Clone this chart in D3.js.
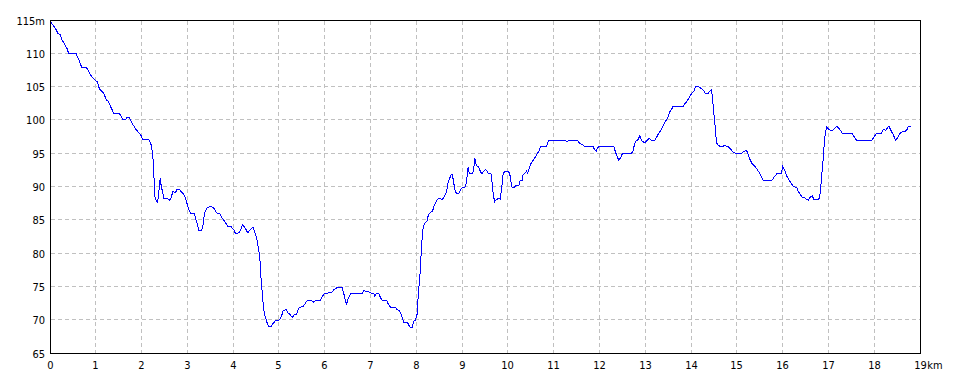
<!DOCTYPE html>
<html>
<head>
<meta charset="utf-8">
<script src="https://cdn.jsdelivr.net/npm/d3@7"></script>
<style>
html,body{margin:0;padding:0;background:#fff;}
svg{display:block;}
text{font-family:"Liberation Sans Narrow","Arial Narrow","DejaVu Sans Condensed",sans-serif;font-size:11px;fill:#000;}
</style>
</head>
<body>
<svg id="chart" width="960" height="384"></svg>
<script>
// distance along route (km)
const distanceKm = [
0,0.11,0.16,0.22,0.255,0.29,0.36,0.40,0.56,0.62,0.68,0.78,0.84,0.895,0.97,1.02,1.07,1.16,1.22,1.27,1.31,1.38,1.48,1.53,1.58,1.64,1.67,1.72,1.78,1.87,1.965,2.02,2.15,2.20,2.23,2.25,2.27,2.285,2.335,2.36,2.395,2.41,2.43,2.475,2.55,2.60,2.64,2.67,2.73,2.77,2.82,2.88,2.91,2.95,3.01,3.06,3.14,3.19,3.24,3.30,3.335,3.36,3.41,3.46,3.53,3.57,3.625,3.70,3.75,3.81,3.87,3.95,4.0,4.04,4.11,4.15,4.19,4.24,4.31,4.35,4.42,4.48,4.51,4.55,4.57,4.60,4.645,4.67,4.72,4.77,4.82,4.85,4.91,4.98,5.04,5.08,5.15,5.18,5.23,5.28,5.32,5.37,5.42,5.47,5.51,5.57,5.61,5.68,5.75,5.80,5.90,5.93,5.98,6.07,6.15,6.19,6.26,6.37,6.405,6.44,6.46,6.49,6.53,6.56,6.81,6.84,6.90,6.97,7.02,7.06,7.08,7.11,7.17,7.20,7.24,7.34,7.37,7.43,7.54,7.57,7.62,7.66,7.70,7.72,7.80,7.83,7.86,7.90,7.93,7.97,8.01,8.02,8.04,8.07,8.08,8.10,8.12,8.14,8.17,8.23,8.25,8.30,8.34,8.37,8.42,8.46,8.50,8.55,8.60,8.65,8.68,8.71,8.75,8.77,8.80,8.82,8.845,8.87,8.92,8.95,9.0,9.05,9.08,9.10,9.12,9.13,9.15,9.22,9.24,9.27,9.30,9.35,9.39,9.42,9.46,9.50,9.53,9.57,9.62,9.645,9.67,9.70,9.74,9.79,9.82,9.85,9.88,9.92,9.99,10.03,10.05,10.07,10.08,10.13,10.17,10.23,10.25,10.30,10.32,10.36,10.40,10.42,10.46,10.50,10.54,10.59,10.63,10.66,10.70,10.83,10.86,10.88,11.25,11.28,11.32,11.51,11.55,11.61,11.65,11.85,11.88,11.92,11.94,11.98,12.30,12.34,12.38,12.41,12.45,12.48,12.50,12.68,12.72,12.75,12.78,12.83,12.87,12.90,12.93,12.97,13.01,13.07,13.12,13.20,13.24,13.27,13.33,13.38,13.41,13.46,13.50,13.53,13.57,13.60,13.82,13.85,13.89,13.94,13.98,14.01,14.05,14.09,14.16,14.21,14.26,14.30,14.36,14.39,14.43,14.45,14.47,14.50,14.52,14.54,14.56,14.61,14.70,14.73,14.76,14.80,14.85,14.90,14.97,15.09,15.14,15.20,15.23,15.27,15.32,15.37,15.43,15.49,15.52,15.56,15.76,15.81,15.87,15.96,15.99,16.03,16.08,16.13,16.18,16.22,16.30,16.32,16.37,16.42,16.47,16.51,16.55,16.59,16.64,16.67,16.77,16.80,16.82,16.84,16.87,16.89,16.91,16.95,17.0,17.05,17.09,17.12,17.17,17.22,17.26,17.29,17.51,17.54,17.60,17.94,17.98,18.04,18.14,18.16,18.20,18.24,18.27,18.31,18.35,18.41,18.45,18.49,18.54,18.60,18.65,18.70,18.73,18.80
];
// elevation (m)
const elevationM = [
114.8,113.8,113.1,112.8,112,111.7,110.8,110,110,109.1,108,108,107.3,106.6,106.1,105.8,104.7,104.1,103.1,102.8,102.1,101.1,101.1,100.8,100.1,100.1,100.5,100.4,99.6,98.6,97.9,97.1,97.1,96.3,95.1,93.1,89.8,88.3,87.7,88.8,91.3,90.5,89.8,88.3,88.3,88.0,88.5,89.3,89.2,89.7,89.6,89.1,88.9,88.3,86.8,86.0,86.0,84.8,83.5,83.4,84.5,86,86.8,87.0,87.0,86.8,86.1,86.0,85.3,84.8,84.1,84.0,83.6,83.0,83.1,83.5,84.3,84.0,83.1,83.5,84.0,82.8,82.0,80.5,79.5,76.0,72.5,71.0,69.8,69.0,69.0,69.4,69.9,69.9,70.5,71.4,71.6,71.1,70.9,70.4,70.8,70.8,71.8,72.0,72.0,72.6,73.0,73.0,72.7,73.0,73.0,73.5,74.0,74.1,74.2,74.6,74.9,74.9,74.0,73.0,72.3,73.0,73.7,74.0,74.0,74.4,74.35,74.2,74.0,74.0,73.6,74.0,74.0,73.5,73.0,73.0,72.5,71.9,71.9,71.6,71.4,70.8,70.0,69.6,69.6,69.2,68.9,68.9,69.8,70.0,71.0,72.5,74.5,77.0,78.5,80.5,82.8,84.0,84.5,85.0,85.8,86.2,86.3,87.0,87.8,88.2,88.3,88.1,88.5,89.3,90.6,91.2,91.8,91.9,91.0,90.0,89.3,89.0,89.1,89.5,90.0,90.0,90.5,91.8,93.0,92.6,92.0,92.0,92.6,94.3,93.2,93.0,92.3,92.0,92.4,92.6,92.4,92.0,92.0,90.55,88.8,87.8,88.1,88.3,88.2,89.55,91.8,92.4,92.4,92.0,91.0,90.3,89.95,89.95,90.3,90.3,90.9,91.0,91.8,92.1,92.4,92.1,92.85,93.65,94.0,94.5,95.0,95.3,96.05,96.15,96.6,96.95,96.95,96.8,96.95,96.95,96.6,96.4,96.15,96.15,95.6,95.35,95.75,96.15,96.15,95.2,94.5,94.05,94.4,94.9,95.0,95.0,95.35,96.3,96.9,97.1,97.7,97.1,96.85,96.65,96.85,97.3,97.05,97.05,97.5,97.9,98.55,99.2,99.7,100.1,100.75,101.35,101.75,102.15,102.15,102.5,102.8,103.3,103.8,104.1,104.35,105.05,105.05,104.8,104.55,104.05,104.05,104.35,104.55,103.8,102.3,100.05,98.8,97.05,96.4,96.15,96.15,96.3,96.15,96.05,95.7,95.3,95.05,95.05,95.3,95.5,95.05,94.2,93.55,93.2,92.65,92.05,91.55,91.05,91.05,91.55,92.05,92.05,93.05,92.55,91.65,91.05,90.55,90.05,89.95,89.45,88.95,88.45,88.4,88.15,88.05,88.45,88.7,88.05,88.05,88.55,89.8,91.55,93.8,95.8,97.55,99.05,98.65,98.45,98.55,98.8,99.15,98.8,98.45,98.05,98.05,97.65,97.05,97.05,97.45,98.05,98.05,98.3,98.7,98.45,98.8,99.15,98.55,97.8,97.05,97.3,97.95,98.3,98.3,98.55,99.05,99.15
];
const xTicks = d3.range(0, 20);              // 0..19 km
const yTicks = [65,70,75,80,85,90,95,100,105,110,115];
const xUnit = "km", yUnit = "m";

const svg = d3.select("#chart");
const x = d3.scaleLinear().domain([0, 19]).range([50, 920]);
const y = d3.scaleLinear().domain([65, 115]).range([353, 20]);
const px = v => Math.floor(v) + 0.5;

// grid
const grid = svg.append("g").attr("stroke", "#c0c0c0").attr("stroke-width", 1)
  .attr("stroke-dasharray", "4,3").attr("shape-rendering", "crispEdges");
grid.selectAll("line.v").data(xTicks.filter(t => t > 0 && t < 19)).enter().append("line")
  .attr("x1", d => px(x(d))).attr("x2", d => px(x(d))).attr("y1", 21).attr("y2", 353);
grid.selectAll("line.h").data(yTicks.filter(t => t > 65 && t < 115)).enter().append("line")
  .attr("y1", d => px(y(d))).attr("y2", d => px(y(d))).attr("x1", 51).attr("x2", 920);

// line
const data = distanceKm.map((d, i) => [d, elevationM[i]]);
svg.append("path").datum(data)
  .attr("fill", "none").attr("stroke", "#0000ff").attr("stroke-width", 1)
  .attr("shape-rendering", "crispEdges")
  .attr("d", d3.line().x(d => x(d[0]) + 0.5).y(d => y(d[1]) + 0.5));

// frame
svg.append("rect").attr("x", 50.5).attr("y", 20.5).attr("width", 870).attr("height", 333)
  .attr("fill", "none").attr("stroke", "#000").attr("shape-rendering", "crispEdges");

// y labels
svg.append("g").selectAll("text").data(yTicks).enter().append("text")
  .attr("x", 45).attr("y", d => px(y(d)) + 4)
  .attr("text-anchor", "end")
  .text(d => d === 115 ? d + yUnit : d);

// x labels
const xl = svg.append("g");
xTicks.forEach(t => {
  const tx = xl.append("text").attr("x", px(x(t))).attr("y", 369)
    .attr("text-anchor", "middle").text(t);
  if (t === 19) {
    const w = tx.node().getComputedTextLength();
    xl.append("text").attr("x", px(x(t)) + w / 2 + 0.5).attr("y", 369).text(xUnit);
  }
});
</script>
</body>
</html>
